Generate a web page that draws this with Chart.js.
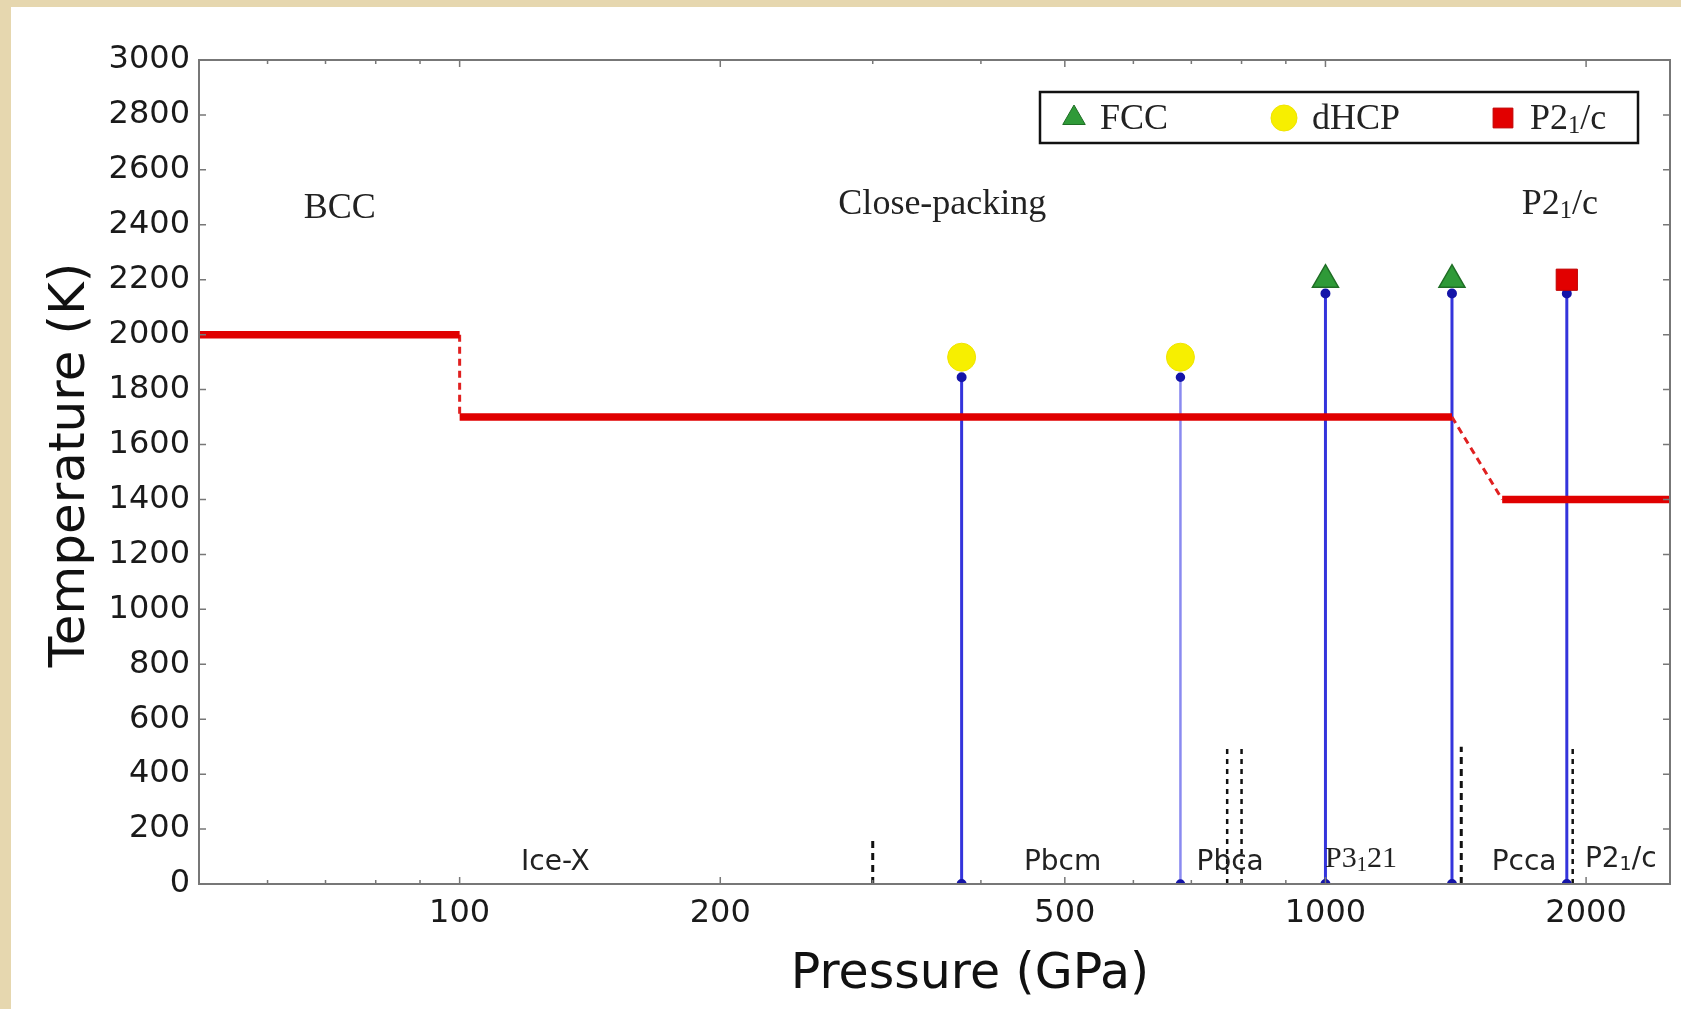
<!DOCTYPE html>
<html>
<head>
<meta charset="utf-8">
<script src="https://cdn.jsdelivr.net/npm/chart.js@4.4.1/dist/chart.umd.min.js"></script>
<style>
  html, body { margin: 0; padding: 0; width: 1681px; height: 1009px; overflow: hidden; background: #e6d7af; }
  #wrap { position: absolute; left: 11px; top: 7px; width: 1670px; height: 1002px; background: #fff; }
</style>
</head>
<body>
<div id="wrap"><canvas id="phaseChart" width="1670" height="1002"></canvas></div>
<script>
// axes: pressure (GPa, log) and temperature (K)
const xTicks = [100, 200, 500, 1000, 2000];
const xMinorTicks = [60, 70, 80, 90, 300, 400, 600, 700, 800, 900];
const yTicks = [0, 200, 400, 600, 800, 1000, 1200, 1400, 1600, 1800, 2000, 2200, 2400, 2600, 2800, 3000];

// melting / superionic boundary, solid pieces and dashed joins
const boundarySolid = [
  [[50, 2000], [100, 2000]],
  [[100, 1700], [1400, 1700]],
  [[1600, 1400], [2500, 1400]]
];
const boundaryDashed = [
  [[100, 2000], [100, 1700]],
  [[1400, 1700], [1600, 1400]]
];

// stems up to the sampled structures
const stemPressure = [380, 680, 1000, 1400, 1900];
const stemTop = [1845, 1845, 2150, 2150, 2150];

// sampled structures
const fccPoints = [[1000, 2200], [1400, 2200]];
const dhcpPoints = [[380, 1918], [680, 1918]];
const p21cPoints = [[1900, 2200]];

// low temperature transitions
const transitionPressure = [300, 770, 800, 1435, 1930];
const transitionTop = [175, 500, 500, 500, 500];

// phase names (_n marks a subscript)
const upperLabels = ['BCC', 'Close-packing', 'P2_1/c'];
const upperLabelX = [72.7, 361, 1865];
const upperLabelY = [2425, 2440, 2440];
const lowerLabels = ['Ice-X', 'Pbcm', 'Pbca', 'P3_121', 'Pcca', 'P2_1/c'];
const lowerLabelX = [129, 497, 776, 1099, 1696, 2193];
const lowerLabelY = [50, 50, 50, 62, 50, 62];

const legendNames = ['FCC', 'dHCP', 'P2_1/c'];

const SANS = '"DejaVu Sans", sans-serif';
const SERIF = '"Liberation Serif", "Times New Roman", serif';

const toXY = pts => pts.map(p => ({ x: p[0], y: p[1] }));

const datasets = [];

// markers on top
datasets.push({
  label: 'FCC', data: toXY(fccPoints), order: 0,
  pointStyle: 'triangle', pointRadius: 15,
  pointBackgroundColor: '#2f9a38', pointBorderColor: '#1f6e25', pointBorderWidth: 1.5
});
datasets.push({
  label: 'dHCP', data: toXY(dhcpPoints), order: 0,
  pointStyle: 'circle', pointRadius: 14,
  pointBackgroundColor: '#f7ef00', pointBorderColor: '#f0e400', pointBorderWidth: 1
});
datasets.push({
  label: 'P21/c', data: toXY(p21cPoints), order: 0,
  pointStyle: 'rect', pointRadius: 15,
  pointBackgroundColor: '#e20000', pointBorderColor: '#c00000', pointBorderWidth: 1
});

boundarySolid.forEach(seg => datasets.push({
  data: toXY(seg), order: 1, showLine: true, pointRadius: 0,
  borderColor: '#e00000', borderWidth: 7.5, borderCapStyle: 'butt'
}));
boundaryDashed.forEach(seg => datasets.push({
  data: toXY(seg), order: 1, showLine: true, pointRadius: 0,
  borderColor: '#e02020', borderWidth: 3, borderDash: [7, 5]
}));

stemPressure.forEach((p, i) => datasets.push({
  data: [{ x: p, y: 0 }, { x: p, y: stemTop[i] }], order: 2, showLine: true,
  borderColor: i === 1 ? '#8a8af0' : '#3434dc', borderWidth: i === 1 ? 2.5 : 3,
  pointRadius: 3.5, pointBackgroundColor: '#1414a8', pointBorderColor: '#1414a8'
}));

transitionPressure.forEach((p, i) => datasets.push({
  data: [{ x: p, y: 0 }, { x: p, y: transitionTop[i] }], order: 3, showLine: true,
  pointRadius: 0, borderColor: '#111', borderWidth: i === 0 || i === 3 ? 3 : 2.5,
  borderDash: i === 0 || i === 3 ? [7, 5] : [5, 5]
}));

// text with "_n" subscripts, centred on cx
function richWidth(ctx, text, size, family) {
  return text.split(/_(\d)/).reduce((s, t, i) => {
    ctx.font = (i % 2 ? size * 0.68 : size) + 'px ' + family;
    return s + ctx.measureText(t).width;
  }, 0);
}

function drawRich(ctx, text, cx, y, size, family, color) {
  const parts = text.split(/_(\d)/);
  const sub = size * 0.68;
  let x = cx - richWidth(ctx, text, size, family) / 2;
  ctx.fillStyle = color;
  ctx.textAlign = 'left';
  ctx.textBaseline = 'alphabetic';
  parts.forEach((t, i) => {
    ctx.font = (i % 2 ? sub : size) + 'px ' + family;
    ctx.fillText(t, x, i % 2 ? y + size * 0.12 : y);
    x += ctx.measureText(t).width;
  });
}

const decorations = {
  id: 'decorations',
  afterDatasetsDraw(chart) {
    const { ctx, chartArea: a, scales: { x, y } } = chart;
    ctx.save();

    // frame with inward ticks
    ctx.strokeStyle = '#777';
    ctx.lineWidth = 2;
    ctx.strokeRect(a.left, a.top, a.right - a.left, a.bottom - a.top);
    ctx.lineWidth = 1.5;
    ctx.beginPath();
    yTicks.forEach(v => {
      const py = y.getPixelForValue(v);
      ctx.moveTo(a.left, py); ctx.lineTo(a.left + 7, py);
      ctx.moveTo(a.right, py); ctx.lineTo(a.right - 7, py);
    });
    xTicks.forEach(v => {
      const px = x.getPixelForValue(v);
      ctx.moveTo(px, a.bottom); ctx.lineTo(px, a.bottom - 7);
      ctx.moveTo(px, a.top); ctx.lineTo(px, a.top + 7);
    });
    xMinorTicks.forEach(v => {
      const px = x.getPixelForValue(v);
      ctx.moveTo(px, a.bottom); ctx.lineTo(px, a.bottom - 4);
      ctx.moveTo(px, a.top); ctx.lineTo(px, a.top + 4);
    });
    ctx.stroke();

    // phase names
    upperLabels.forEach((t, i) => {
      drawRich(ctx, t, x.getPixelForValue(upperLabelX[i]), y.getPixelForValue(upperLabelY[i]), 36, SERIF, '#222');
    });
    lowerLabels.forEach((t, i) => {
      const serif = t === 'P3_121';
      drawRich(ctx, t, x.getPixelForValue(lowerLabelX[i]), y.getPixelForValue(lowerLabelY[i]),
        serif ? 30 : 28, serif ? SERIF : SANS, '#222');
    });

    // legend box, upper right
    const bx = a.right - 630, by = a.top + 32, bw = 598, bh = 51;
    ctx.fillStyle = '#fff';
    ctx.fillRect(bx, by, bw, bh);
    ctx.strokeStyle = '#111';
    ctx.lineWidth = 2.5;
    ctx.strokeRect(bx, by, bw, bh);
    const markerX = [34, 244, 463];
    const textX = [60, 272, 490];
    chart.data.datasets.slice(0, 3).forEach((ds, i) => {
      ctx.fillStyle = ds.pointBackgroundColor;
      ctx.strokeStyle = ds.pointBorderColor;
      ctx.lineWidth = 1;
      Chart.helpers.drawPoint(ctx, { pointStyle: ds.pointStyle, radius: ds.pointStyle === 'rect' ? 14 : 13, borderWidth: 1 },
        bx + markerX[i], by + 26);
      const name = legendNames[i];
      const w = richWidth(ctx, name, 36, SERIF);
      drawRich(ctx, name, bx + textX[i] + w / 2, by + 37, 36, SERIF, '#222');
    });

    // axis titles
    ctx.fillStyle = '#111';
    ctx.font = '49px ' + SANS;
    ctx.textAlign = 'center';
    ctx.textBaseline = 'alphabetic';
    ctx.fillText('Pressure (GPa)', 959, 981);
    ctx.translate(60, 458);
    ctx.rotate(-Math.PI / 2);
    ctx.textBaseline = 'middle';
    ctx.font = '50px ' + SANS;
    ctx.fillText('Temperature (K)', 0, 0);
    ctx.restore();
  }
};

new Chart(document.getElementById('phaseChart'), {
  type: 'scatter',
  data: { datasets },
  options: {
    responsive: false,
    animation: false,
    layout: { autoPadding: false, padding: { top: 53, right: 11, left: 0, bottom: 0 } },
    plugins: { legend: { display: false }, tooltip: { enabled: false } },
    scales: {
      x: {
        type: 'logarithmic', min: 50, max: 2500,
        grid: { display: false, drawTicks: false },
        border: { display: false },
        afterBuildTicks: s => { s.ticks = xTicks.map(v => ({ value: v })); },
        afterFit: s => { s.height = 125; s.paddingLeft = 0; s.paddingRight = 0; },
        ticks: {
          autoSkip: false, maxRotation: 0, padding: 10, color: '#1a1a1a',
          font: { family: 'DejaVu Sans', size: 32 },
          callback: v => String(v)
        }
      },
      y: {
        type: 'linear', min: 0, max: 3000,
        grid: { display: false, drawTicks: false },
        border: { display: false },
        afterBuildTicks: s => { s.ticks = yTicks.map(v => ({ value: v })); },
        afterFit: s => { s.width = 188; s.paddingTop = 0; s.paddingBottom = 0; },
        ticks: {
          padding: 9, color: '#1a1a1a',
          font: { family: 'DejaVu Sans', size: 32 },
          callback: v => String(v)
        }
      }
    }
  },
  plugins: [decorations]
});
</script>
</body>
</html>
